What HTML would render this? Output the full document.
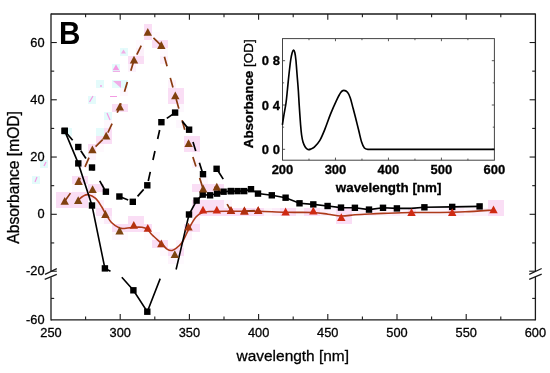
<!DOCTYPE html>
<html><head><meta charset="utf-8"><style>
html,body{margin:0;padding:0;background:#fff;}
svg{display:block;}
text{font-family:"Liberation Sans",sans-serif;fill:#000;stroke:#000;stroke-width:0.3px;}
text.b{stroke-width:0.15px;}
.g{filter:grayscale(1);}
</style></head><body>
<svg width="550" height="373" viewBox="0 0 550 373">
<rect width="550" height="373" fill="#fff"/>
<g shape-rendering="crispEdges"><rect x="152" y="32" width="8" height="8" fill="#fefafe"/><rect x="136" y="40" width="8" height="8" fill="#fefafe"/><rect x="136" y="48" width="8" height="8" fill="#fcf0fa"/><rect x="160" y="48" width="8" height="8" fill="#fef9fd"/><rect x="160" y="56" width="8" height="8" fill="#fcf1fb"/><rect x="128" y="64" width="8" height="8" fill="#fcf1fb"/><rect x="120" y="80" width="8" height="8" fill="#fdf4fc"/><rect x="168" y="80" width="8" height="8" fill="#fdf2fb"/><rect x="120" y="88" width="8" height="8" fill="#fef8fd"/><rect x="176" y="104" width="8" height="8" fill="#fdf7fd"/><rect x="104" y="120" width="8" height="8" fill="#fdf7fd"/><rect x="176" y="120" width="8" height="8" fill="#fdf7fd"/><rect x="96" y="144" width="8" height="8" fill="#fef9fd"/><rect x="88" y="152" width="8" height="8" fill="#fdf3fc"/><rect x="192" y="152" width="8" height="8" fill="#fef9fd"/><rect x="80" y="160" width="8" height="8" fill="#fdf3fc"/><rect x="192" y="160" width="8" height="8" fill="#fdf3fc"/><rect x="200" y="176" width="8" height="8" fill="#fdf6fc"/><rect x="72" y="184" width="8" height="8" fill="#fef9fd"/><rect x="88" y="192" width="8" height="8" fill="#fbe9f8"/><rect x="96" y="200" width="8" height="8" fill="#fceefa"/><rect x="224" y="200" width="8" height="8" fill="#fdf6fc"/><rect x="264" y="208" width="8" height="8" fill="#fdf6fc"/><rect x="272" y="208" width="8" height="8" fill="#fcedfa"/><rect x="296" y="208" width="8" height="8" fill="#fdf6fc"/><rect x="320" y="208" width="8" height="8" fill="#fcf0fa"/><rect x="328" y="208" width="8" height="8" fill="#fdf3fc"/><rect x="352" y="208" width="8" height="8" fill="#fdf2fb"/><rect x="360" y="208" width="8" height="8" fill="#fdf2fb"/><rect x="368" y="208" width="8" height="8" fill="#fcedfa"/><rect x="376" y="208" width="8" height="8" fill="#fdf6fc"/><rect x="384" y="208" width="8" height="8" fill="#fdf2fb"/><rect x="392" y="208" width="8" height="8" fill="#fcecf9"/><rect x="400" y="208" width="8" height="8" fill="#fdf4fc"/><rect x="416" y="208" width="8" height="8" fill="#fdf6fc"/><rect x="424" y="208" width="8" height="8" fill="#fdf6fc"/><rect x="432" y="208" width="8" height="8" fill="#fdf6fc"/><rect x="440" y="208" width="8" height="8" fill="#fdf6fc"/><rect x="456" y="208" width="8" height="8" fill="#fcecf9"/><rect x="464" y="208" width="8" height="8" fill="#fdf6fc"/><rect x="472" y="208" width="8" height="8" fill="#fcf0fa"/><rect x="480" y="208" width="8" height="8" fill="#fcf1fb"/><rect x="96" y="216" width="8" height="8" fill="#fefafe"/><rect x="104" y="216" width="8" height="8" fill="#fbeaf9"/><rect x="192" y="216" width="8" height="8" fill="#fceefa"/><rect x="112" y="232" width="8" height="8" fill="#fdf7fd"/><rect x="120" y="232" width="8" height="8" fill="#fef9fd"/><rect x="144" y="232" width="8" height="8" fill="#fef9fd"/><rect x="152" y="232" width="8" height="8" fill="#fdf2fb"/><rect x="184" y="232" width="8" height="8" fill="#fdf2fb"/><rect x="176" y="240" width="8" height="8" fill="#fdf2fb"/><rect x="160" y="248" width="8" height="8" fill="#fef9fd"/><rect x="168" y="256" width="8" height="8" fill="#fdf4fc"/><rect x="176" y="256" width="8" height="8" fill="#fefafe"/><rect x="56" y="192" width="8" height="8" fill="#fadef5"/><rect x="56" y="200" width="8" height="8" fill="#fadef5"/><rect x="64" y="192" width="8" height="8" fill="#fadef5"/><rect x="64" y="200" width="8" height="8" fill="#fadef5"/><rect x="72" y="176" width="8" height="8" fill="#fadef5"/><rect x="80" y="176" width="8" height="8" fill="#fadef5"/><rect x="88" y="144" width="8" height="8" fill="#fadef5"/><rect x="96" y="128" width="8" height="8" fill="#fadef5"/><rect x="96" y="136" width="8" height="8" fill="#fadef5"/><rect x="104" y="128" width="8" height="8" fill="#fadef5"/><rect x="104" y="136" width="8" height="8" fill="#fadef5"/><rect x="112" y="104" width="8" height="8" fill="#fadef5"/><rect x="120" y="104" width="8" height="8" fill="#fadef5"/><rect x="128" y="56" width="8" height="8" fill="#fadef5"/><rect x="136" y="56" width="8" height="8" fill="#fadef5"/><rect x="144" y="24" width="8" height="8" fill="#fadef5"/><rect x="144" y="32" width="8" height="8" fill="#fadef5"/><rect x="152" y="40" width="8" height="8" fill="#fadef5"/><rect x="160" y="40" width="8" height="8" fill="#fadef5"/><rect x="168" y="88" width="8" height="8" fill="#fadef5"/><rect x="168" y="96" width="8" height="8" fill="#fadef5"/><rect x="176" y="88" width="8" height="8" fill="#fadef5"/><rect x="176" y="96" width="8" height="8" fill="#fadef5"/><rect x="184" y="136" width="8" height="8" fill="#fadef5"/><rect x="184" y="144" width="8" height="8" fill="#fadef5"/><rect x="192" y="136" width="8" height="8" fill="#fadef5"/><rect x="192" y="144" width="8" height="8" fill="#fadef5"/><rect x="192" y="184" width="8" height="8" fill="#fadef5"/><rect x="200" y="184" width="8" height="8" fill="#fadef5"/><rect x="208" y="184" width="8" height="8" fill="#fadef5"/><rect x="216" y="184" width="8" height="8" fill="#fadef5"/><rect x="224" y="208" width="8" height="8" fill="#fadef5"/><rect x="232" y="208" width="8" height="8" fill="#fadef5"/><rect x="240" y="208" width="8" height="8" fill="#fadef5"/><rect x="248" y="208" width="8" height="8" fill="#fadef5"/><rect x="256" y="208" width="8" height="8" fill="#fadef5"/><rect x="72" y="192" width="8" height="8" fill="#fadef5"/><rect x="72" y="200" width="8" height="8" fill="#fadef5"/><rect x="80" y="192" width="8" height="8" fill="#fadef5"/><rect x="80" y="200" width="8" height="8" fill="#fadef5"/><rect x="88" y="184" width="8" height="8" fill="#fadef5"/><rect x="96" y="184" width="8" height="8" fill="#fadef5"/><rect x="96" y="208" width="8" height="8" fill="#fadef5"/><rect x="104" y="208" width="8" height="8" fill="#fadef5"/><rect x="112" y="224" width="8" height="8" fill="#fadef5"/><rect x="120" y="224" width="8" height="8" fill="#fadef5"/><rect x="128" y="216" width="8" height="8" fill="#fadef5"/><rect x="128" y="224" width="8" height="8" fill="#fadef5"/><rect x="136" y="216" width="8" height="8" fill="#fadef5"/><rect x="136" y="224" width="8" height="8" fill="#fadef5"/><rect x="144" y="224" width="8" height="8" fill="#fadef5"/><rect x="152" y="240" width="8" height="8" fill="#fadef5"/><rect x="160" y="240" width="8" height="8" fill="#fadef5"/><rect x="168" y="248" width="8" height="8" fill="#fadef5"/><rect x="176" y="248" width="8" height="8" fill="#fadef5"/><rect x="184" y="224" width="8" height="8" fill="#fadef5"/><rect x="192" y="224" width="8" height="8" fill="#fadef5"/><rect x="192" y="200" width="8" height="8" fill="#fadef5"/><rect x="192" y="208" width="8" height="8" fill="#fadef5"/><rect x="200" y="200" width="8" height="8" fill="#fadef5"/><rect x="200" y="208" width="8" height="8" fill="#fadef5"/><rect x="208" y="200" width="8" height="8" fill="#fadef5"/><rect x="208" y="208" width="8" height="8" fill="#fadef5"/><rect x="216" y="200" width="8" height="8" fill="#fadef5"/><rect x="216" y="208" width="8" height="8" fill="#fadef5"/><rect x="280" y="208" width="8" height="8" fill="#fadef5"/><rect x="288" y="208" width="8" height="8" fill="#fadef5"/><rect x="304" y="208" width="8" height="8" fill="#fadef5"/><rect x="312" y="208" width="8" height="8" fill="#fadef5"/><rect x="336" y="208" width="8" height="8" fill="#fadef5"/><rect x="336" y="216" width="8" height="8" fill="#fadef5"/><rect x="344" y="208" width="8" height="8" fill="#fadef5"/><rect x="344" y="216" width="8" height="8" fill="#fadef5"/><rect x="408" y="208" width="8" height="8" fill="#fadef5"/><rect x="448" y="208" width="8" height="8" fill="#fadef5"/><rect x="488" y="200" width="8" height="8" fill="#fadef5"/><rect x="488" y="208" width="8" height="8" fill="#fadef5"/><rect x="496" y="200" width="8" height="8" fill="#fadef5"/><rect x="496" y="208" width="8" height="8" fill="#fadef5"/></g>
<rect x="112" y="64" width="8" height="8" fill="#e4fbfb" shape-rendering="crispEdges"/>
<rect x="96" y="80" width="8" height="8" fill="#e4fbfb" shape-rendering="crispEdges"/>
<rect x="112" y="80" width="8" height="8" fill="#e4fbfb" shape-rendering="crispEdges"/>
<rect x="120" y="80" width="8" height="8" fill="#e4fbfb" shape-rendering="crispEdges"/>
<rect x="88" y="96" width="8" height="8" fill="#e4fbfb" shape-rendering="crispEdges"/>
<rect x="104" y="112" width="8" height="8" fill="#e4fbfb" shape-rendering="crispEdges"/>
<rect x="32" y="176" width="8" height="8" fill="#e4fbfb" shape-rendering="crispEdges"/>
<rect x="40" y="160" width="8" height="8" fill="#e4fbfb" shape-rendering="crispEdges"/>
<rect x="120" y="48" width="8" height="8" fill="#e4fbfb" shape-rendering="crispEdges"/>
<rect x="64" y="128" width="8" height="8" fill="#e4fbfb" shape-rendering="crispEdges"/>
<rect x="96" y="128" width="8" height="8" fill="#e4fbfb" shape-rendering="crispEdges"/>
<path d="M116,64.5 L119.2,70 L112.8,70Z" fill="#f39be3"/>
<line x1="113" y1="71.3" x2="120" y2="71.3" stroke="#f39be3" stroke-width="1"/>
<circle cx="101" cy="86" r="0.9" fill="#f39be3"/>
<path d="M113,81 L121,81 L121,88Z" fill="#f39be3" opacity="0.8"/>
<line x1="89.5" y1="102" x2="93" y2="96" stroke="#f39be3" stroke-width="1.2"/>
<line x1="110" y1="96.5" x2="117" y2="96.5" stroke="#f39be3" stroke-width="1"/>
<line x1="107" y1="113" x2="110" y2="120" stroke="#f39be3" stroke-width="1.2"/>
<line x1="35" y1="182" x2="37" y2="177" stroke="#f39be3" stroke-width="1.2"/>
<line x1="44" y1="166" x2="46" y2="162" stroke="#f39be3" stroke-width="1.2"/>
<path d="M123.5,49.5 L126,53.5 L121,53.5Z" fill="#f39be3" opacity="0.8"/>
<path d="M78.50,199.80 C79.25,199.20 81.38,197.05 83.00,196.20 C84.62,195.35 86.10,194.33 88.20,194.70 C90.30,195.07 93.38,196.43 95.60,198.40 C97.82,200.37 99.85,203.98 101.50,206.50 C103.15,209.02 103.78,210.78 105.50,213.50 C107.22,216.22 109.47,220.38 111.80,222.80 C114.13,225.22 117.13,227.08 119.50,228.00 C121.87,228.92 123.58,228.42 126.00,228.30 C128.42,228.18 131.33,227.47 134.00,227.30 C136.67,227.13 139.75,226.93 142.00,227.30 C144.25,227.67 145.83,228.25 147.50,229.50 C149.17,230.75 149.67,232.45 152.00,234.80 C154.33,237.15 158.93,241.17 161.50,243.60 C164.07,246.03 165.52,248.30 167.40,249.40 C169.28,250.50 170.90,250.77 172.80,250.20 C174.70,249.63 177.10,247.53 178.80,246.00 C180.50,244.47 181.13,244.25 183.00,241.00 C184.87,237.75 187.83,230.50 190.00,226.50 C192.17,222.50 193.92,219.32 196.00,217.00 C198.08,214.68 200.17,213.52 202.50,212.60 C204.83,211.68 205.25,211.72 210.00,211.50 C214.75,211.28 223.00,211.33 231.00,211.30 C239.00,211.27 248.90,211.13 258.00,211.30 C267.10,211.47 276.38,212.10 285.60,212.30 C294.82,212.50 306.23,212.18 313.30,212.50 C320.37,212.82 323.35,213.62 328.00,214.20 C332.65,214.78 336.70,215.90 341.20,216.00 C345.70,216.10 350.37,215.13 355.00,214.80 C359.63,214.47 364.33,214.23 369.00,214.00 C373.67,213.77 375.92,213.65 383.00,213.40 C390.08,213.15 402.00,212.65 411.50,212.50 C421.00,212.35 431.08,212.62 440.00,212.50 C448.92,212.38 456.08,212.22 465.00,211.80 C473.92,211.38 488.75,210.30 493.50,210.00" fill="none" stroke="#ad3a1a" stroke-width="1.6"/>
<line x1="64.7" y1="201.3" x2="78.6" y2="181.5" stroke="#8a3a10" stroke-width="1.7" stroke-dasharray="10,12" stroke-dashoffset="0.00"/>
<line x1="78.6" y1="181.5" x2="92.4" y2="149.9" stroke="#8a3a10" stroke-width="1.7" stroke-dasharray="10,12" stroke-dashoffset="6.00"/>
<line x1="92.4" y1="149.9" x2="106.2" y2="136.1" stroke="#8a3a10" stroke-width="1.7" stroke-dasharray="10,12" stroke-dashoffset="17.50"/>
<line x1="106.2" y1="136.1" x2="119.8" y2="107.1" stroke="#8a3a10" stroke-width="1.7" stroke-dasharray="10,12" stroke-dashoffset="18.10"/>
<line x1="119.8" y1="107.1" x2="134.0" y2="60.2" stroke="#8a3a10" stroke-width="1.7" stroke-dasharray="10,12" stroke-dashoffset="5.90"/>
<line x1="134.0" y1="60.2" x2="147.8" y2="32.3" stroke="#8a3a10" stroke-width="1.7" stroke-dasharray="10,12" stroke-dashoffset="15.70"/>
<line x1="147.8" y1="32.3" x2="161.3" y2="45.5" stroke="#8a3a10" stroke-width="1.7" stroke-dasharray="10,12" stroke-dashoffset="14.10"/>
<line x1="161.3" y1="45.5" x2="175.3" y2="95.9" stroke="#8a3a10" stroke-width="1.7" stroke-dasharray="10,12" stroke-dashoffset="10.40"/>
<line x1="175.3" y1="95.9" x2="188.6" y2="143.6" stroke="#8a3a10" stroke-width="1.7" stroke-dasharray="10,12" stroke-dashoffset="18.80"/>
<line x1="188.6" y1="143.6" x2="203.2" y2="189.0" stroke="#8a3a10" stroke-width="1.7" stroke-dasharray="10,12" stroke-dashoffset="8.00"/>
<line x1="203.2" y1="189.0" x2="216.8" y2="187.1" stroke="#8a3a10" stroke-width="1.7" stroke-dasharray="10,12" stroke-dashoffset="10.95"/>
<line x1="216.8" y1="187.1" x2="231.0" y2="210.6" stroke="#8a3a10" stroke-width="1.7" stroke-dasharray="10,12" stroke-dashoffset="2.10"/>
<line x1="231.0" y1="210.6" x2="244.4" y2="211.0" stroke="#8a3a10" stroke-width="1.7" stroke-dasharray="10,12" stroke-dashoffset="8.14"/>
<line x1="244.4" y1="211.0" x2="258.2" y2="210.6" stroke="#8a3a10" stroke-width="1.7" stroke-dasharray="10,12" stroke-dashoffset="21.54"/>
<line x1="64.7" y1="130.9" x2="78.3" y2="147.0" stroke="#000" stroke-width="1.7" stroke-dasharray="9.3,12.2" stroke-dashoffset="18.50"/>
<line x1="78.3" y1="147.0" x2="92.0" y2="167.5" stroke="#000" stroke-width="1.7" stroke-dasharray="9.3,12.2" stroke-dashoffset="17.00"/>
<line x1="92.0" y1="167.5" x2="105.9" y2="191.7" stroke="#000" stroke-width="1.7" stroke-dasharray="9.3,12.2" stroke-dashoffset="6.00"/>
<line x1="105.9" y1="191.7" x2="119.4" y2="196.5" stroke="#000" stroke-width="1.7" stroke-dasharray="9.3,12.2" stroke-dashoffset="7.04"/>
<line x1="119.4" y1="196.5" x2="132.8" y2="201.8" stroke="#000" stroke-width="1.7" stroke-dasharray="9.3,12.2" stroke-dashoffset="21.37"/>
<line x1="132.8" y1="201.8" x2="147.3" y2="185.3" stroke="#000" stroke-width="1.7" stroke-dasharray="9.3,12.2" stroke-dashoffset="14.28"/>
<line x1="147.3" y1="185.3" x2="161.4" y2="122.2" stroke="#000" stroke-width="1.7" stroke-dasharray="9.3,12.2" stroke-dashoffset="17.10"/>
<line x1="161.4" y1="122.2" x2="175.1" y2="112.6" stroke="#000" stroke-width="1.7" stroke-dasharray="9.3,12.2" stroke-dashoffset="14.90"/>
<line x1="175.1" y1="112.6" x2="189.1" y2="129.7" stroke="#000" stroke-width="1.7" stroke-dasharray="9.3,12.2" stroke-dashoffset="10.13"/>
<line x1="189.1" y1="129.7" x2="203.0" y2="174.2" stroke="#000" stroke-width="1.7" stroke-dasharray="9.3,12.2" stroke-dashoffset="8.50"/>
<line x1="203.0" y1="174.2" x2="216.6" y2="168.8" stroke="#000" stroke-width="1.7" stroke-dasharray="9.3,12.2" stroke-dashoffset="7.00"/>
<line x1="216.6" y1="168.8" x2="230.9" y2="191.1" stroke="#000" stroke-width="1.7" stroke-dasharray="9.3,12.2" stroke-dashoffset="18.50"/>
<polyline points="64.7,130.9 78.3,163.4 92.0,205.5 104.9,268.4 110.5,271.3" fill="none" stroke="#000" stroke-width="1.6"/>
<polyline points="121.8,277.2 133.4,290.3 147.3,311.7 160.2,278.6" fill="none" stroke="#000" stroke-width="1.6"/>
<polyline points="176.1,269.5 189.0,214.5 196.6,200.6 202.7,194.6 210.1,195.3 217.1,193.6 223.6,191.7 230.9,191.1 237.6,191.1 244.2,191.1 251.0,189.2 258.0,193.6 271.8,195.3 285.6,197.7 299.5,203.3 313.3,204.4 327.6,206.0 341.0,207.6 354.9,207.8 369.0,209.6 383.0,207.8 396.9,208.4 411.3,208.4 424.4,207.3 452.2,206.9 479.6,206.4" fill="none" stroke="#000" stroke-width="1.6"/>
<rect x="61.5" y="127.7" width="6.4" height="6.4" fill="#000"/>
<rect x="75.1" y="143.8" width="6.4" height="6.4" fill="#000"/>
<rect x="88.8" y="164.3" width="6.4" height="6.4" fill="#000"/>
<rect x="102.7" y="188.5" width="6.4" height="6.4" fill="#000"/>
<rect x="116.2" y="193.3" width="6.4" height="6.4" fill="#000"/>
<rect x="129.6" y="198.6" width="6.4" height="6.4" fill="#000"/>
<rect x="144.1" y="182.1" width="6.4" height="6.4" fill="#000"/>
<rect x="158.2" y="119.0" width="6.4" height="6.4" fill="#000"/>
<rect x="171.9" y="109.4" width="6.4" height="6.4" fill="#000"/>
<rect x="185.9" y="126.5" width="6.4" height="6.4" fill="#000"/>
<rect x="199.8" y="171.0" width="6.4" height="6.4" fill="#000"/>
<rect x="213.4" y="165.6" width="6.4" height="6.4" fill="#000"/>
<rect x="227.7" y="187.9" width="6.4" height="6.4" fill="#000"/>
<rect x="61.5" y="127.7" width="6.4" height="6.4" fill="#000"/>
<rect x="75.1" y="160.2" width="6.4" height="6.4" fill="#000"/>
<rect x="88.8" y="202.3" width="6.4" height="6.4" fill="#000"/>
<rect x="101.7" y="265.2" width="6.4" height="6.4" fill="#000"/>
<rect x="130.2" y="287.1" width="6.4" height="6.4" fill="#000"/>
<rect x="144.1" y="308.5" width="6.4" height="6.4" fill="#000"/>
<rect x="185.8" y="211.3" width="6.4" height="6.4" fill="#000"/>
<rect x="193.4" y="197.4" width="6.4" height="6.4" fill="#000"/>
<rect x="199.5" y="191.4" width="6.4" height="6.4" fill="#000"/>
<rect x="206.9" y="192.1" width="6.4" height="6.4" fill="#000"/>
<rect x="213.9" y="190.4" width="6.4" height="6.4" fill="#000"/>
<rect x="220.4" y="188.5" width="6.4" height="6.4" fill="#000"/>
<rect x="227.7" y="187.9" width="6.4" height="6.4" fill="#000"/>
<rect x="234.4" y="187.9" width="6.4" height="6.4" fill="#000"/>
<rect x="241.0" y="187.9" width="6.4" height="6.4" fill="#000"/>
<rect x="247.8" y="186.0" width="6.4" height="6.4" fill="#000"/>
<rect x="254.8" y="190.4" width="6.4" height="6.4" fill="#000"/>
<rect x="268.6" y="192.1" width="6.4" height="6.4" fill="#000"/>
<rect x="282.4" y="194.5" width="6.4" height="6.4" fill="#000"/>
<rect x="296.3" y="200.1" width="6.4" height="6.4" fill="#000"/>
<rect x="310.1" y="201.2" width="6.4" height="6.4" fill="#000"/>
<rect x="324.4" y="202.8" width="6.4" height="6.4" fill="#000"/>
<rect x="337.8" y="204.4" width="6.4" height="6.4" fill="#000"/>
<rect x="351.7" y="204.6" width="6.4" height="6.4" fill="#000"/>
<rect x="365.8" y="206.4" width="6.4" height="6.4" fill="#000"/>
<rect x="379.8" y="204.6" width="6.4" height="6.4" fill="#000"/>
<rect x="393.7" y="205.2" width="6.4" height="6.4" fill="#000"/>
<rect x="421.2" y="204.1" width="6.4" height="6.4" fill="#000"/>
<rect x="449.0" y="203.7" width="6.4" height="6.4" fill="#000"/>
<rect x="476.4" y="203.2" width="6.4" height="6.4" fill="#000"/>
<path d="M64.7,196.9 L68.9,204.7 L60.5,204.7Z" fill="#80400e"/>
<path d="M78.6,177.1 L82.8,184.9 L74.4,184.9Z" fill="#80400e"/>
<path d="M92.4,145.5 L96.6,153.3 L88.2,153.3Z" fill="#80400e"/>
<path d="M106.2,131.7 L110.4,139.5 L102.0,139.5Z" fill="#80400e"/>
<path d="M119.8,102.7 L124.0,110.5 L115.6,110.5Z" fill="#80400e"/>
<path d="M134.0,55.8 L138.2,63.6 L129.8,63.6Z" fill="#80400e"/>
<path d="M147.8,27.9 L152.0,35.7 L143.6,35.7Z" fill="#80400e"/>
<path d="M161.3,41.1 L165.5,48.9 L157.1,48.9Z" fill="#80400e"/>
<path d="M175.3,91.5 L179.5,99.3 L171.1,99.3Z" fill="#80400e"/>
<path d="M188.6,139.2 L192.8,147.0 L184.4,147.0Z" fill="#80400e"/>
<path d="M203.2,184.6 L207.4,192.4 L199.0,192.4Z" fill="#80400e"/>
<path d="M216.8,182.7 L221.0,190.5 L212.6,190.5Z" fill="#80400e"/>
<path d="M78.2,196.2 L82.4,204.0 L74.0,204.0Z" fill="#7c4410"/>
<path d="M92.6,185.2 L96.8,193.0 L88.4,193.0Z" fill="#7c4410"/>
<path d="M105.4,210.1 L109.6,217.9 L101.2,217.9Z" fill="#86400e"/>
<path d="M119.6,226.6 L123.8,234.4 L115.4,234.4Z" fill="#7c4410"/>
<path d="M133.8,220.9 L138.0,228.7 L129.6,228.7Z" fill="#b4320f"/>
<path d="M147.8,223.9 L152.0,231.7 L143.6,231.7Z" fill="#c02c10"/>
<path d="M161.3,239.5 L165.5,247.3 L157.1,247.3Z" fill="#a4360f"/>
<path d="M174.8,250.3 L179.0,258.1 L170.6,258.1Z" fill="#7c4410"/>
<path d="M188.5,222.7 L192.7,230.5 L184.3,230.5Z" fill="#a4360f"/>
<path d="M203.0,205.8 L207.2,213.6 L198.8,213.6Z" fill="#cf2a12"/>
<path d="M216.8,205.8 L221.0,213.6 L212.6,213.6Z" fill="#cf2a12"/>
<path d="M231.0,206.2 L235.2,214.0 L226.8,214.0Z" fill="#cf2a12"/>
<path d="M244.4,206.6 L248.6,214.4 L240.2,214.4Z" fill="#cf2a12"/>
<path d="M258.2,206.2 L262.4,214.0 L254.0,214.0Z" fill="#cf2a12"/>
<path d="M285.6,207.6 L289.8,215.4 L281.4,215.4Z" fill="#cf2a12"/>
<path d="M313.3,206.8 L317.5,214.6 L309.1,214.6Z" fill="#cf2a12"/>
<path d="M341.3,213.2 L345.5,221.0 L337.1,221.0Z" fill="#cf2a12"/>
<path d="M411.5,208.2 L415.7,216.0 L407.3,216.0Z" fill="#cf2a12"/>
<path d="M452.2,208.3 L456.4,216.1 L448.0,216.1Z" fill="#cf2a12"/>
<path d="M493.5,205.4 L497.7,213.2 L489.3,213.2Z" fill="#cf2a12"/>
<path d="M231.0,206.2 L235.2,214.0 L226.8,214.0Z" fill="#b0300f"/>
<path d="M244.4,206.6 L248.6,214.4 L240.2,214.4Z" fill="#b0300f"/>
<path d="M258.2,206.2 L262.4,214.0 L254.0,214.0Z" fill="#b0300f"/>
<line x1="51.0" y1="14.0" x2="535.4" y2="14.0" stroke="#1a1a1a" stroke-width="1.3"/>
<line x1="51.0" y1="319.8" x2="535.4" y2="319.8" stroke="#1a1a1a" stroke-width="1.3"/>
<line x1="51.0" y1="13.4" x2="51.0" y2="271.2" stroke="#1a1a1a" stroke-width="1.3"/>
<line x1="51.0" y1="277.2" x2="51.0" y2="320.40000000000003" stroke="#1a1a1a" stroke-width="1.3"/>
<line x1="535.4" y1="13.4" x2="535.4" y2="271.2" stroke="#1a1a1a" stroke-width="1.3"/>
<line x1="535.4" y1="276.8" x2="535.4" y2="320.40000000000003" stroke="#1a1a1a" stroke-width="1.3"/>
<line x1="45" y1="274.4" x2="56.8" y2="268.6" stroke="#1a1a1a" stroke-width="1.2"/>
<line x1="44.7" y1="279.4" x2="56.8" y2="274.4" stroke="#1a1a1a" stroke-width="1.2"/>
<line x1="51.0" y1="271.2" x2="56.8" y2="271.2" stroke="#1a1a1a" stroke-width="1.1"/>
<line x1="529.2" y1="274.4" x2="541.7" y2="268.5" stroke="#1a1a1a" stroke-width="1.2"/>
<line x1="529.2" y1="279.4" x2="541.7" y2="274.1" stroke="#1a1a1a" stroke-width="1.2"/>
<line x1="529.2" y1="271.2" x2="535.4" y2="271.2" stroke="#1a1a1a" stroke-width="1.1"/>
<line x1="85.60" y1="319.8" x2="85.60" y2="316.6" stroke="#1a1a1a" stroke-width="1.1"/>
<line x1="85.60" y1="14.0" x2="85.60" y2="17.2" stroke="#1a1a1a" stroke-width="1.1"/>
<line x1="120.20" y1="319.8" x2="120.20" y2="314.0" stroke="#1a1a1a" stroke-width="1.1"/>
<line x1="120.20" y1="14.0" x2="120.20" y2="19.8" stroke="#1a1a1a" stroke-width="1.1"/>
<line x1="154.80" y1="319.8" x2="154.80" y2="316.6" stroke="#1a1a1a" stroke-width="1.1"/>
<line x1="154.80" y1="14.0" x2="154.80" y2="17.2" stroke="#1a1a1a" stroke-width="1.1"/>
<line x1="189.40" y1="319.8" x2="189.40" y2="314.0" stroke="#1a1a1a" stroke-width="1.1"/>
<line x1="189.40" y1="14.0" x2="189.40" y2="19.8" stroke="#1a1a1a" stroke-width="1.1"/>
<line x1="224.00" y1="319.8" x2="224.00" y2="316.6" stroke="#1a1a1a" stroke-width="1.1"/>
<line x1="224.00" y1="14.0" x2="224.00" y2="17.2" stroke="#1a1a1a" stroke-width="1.1"/>
<line x1="258.60" y1="319.8" x2="258.60" y2="314.0" stroke="#1a1a1a" stroke-width="1.1"/>
<line x1="258.60" y1="14.0" x2="258.60" y2="19.8" stroke="#1a1a1a" stroke-width="1.1"/>
<line x1="293.20" y1="319.8" x2="293.20" y2="316.6" stroke="#1a1a1a" stroke-width="1.1"/>
<line x1="293.20" y1="14.0" x2="293.20" y2="17.2" stroke="#1a1a1a" stroke-width="1.1"/>
<line x1="327.80" y1="319.8" x2="327.80" y2="314.0" stroke="#1a1a1a" stroke-width="1.1"/>
<line x1="327.80" y1="14.0" x2="327.80" y2="19.8" stroke="#1a1a1a" stroke-width="1.1"/>
<line x1="362.40" y1="319.8" x2="362.40" y2="316.6" stroke="#1a1a1a" stroke-width="1.1"/>
<line x1="362.40" y1="14.0" x2="362.40" y2="17.2" stroke="#1a1a1a" stroke-width="1.1"/>
<line x1="397.00" y1="319.8" x2="397.00" y2="314.0" stroke="#1a1a1a" stroke-width="1.1"/>
<line x1="397.00" y1="14.0" x2="397.00" y2="19.8" stroke="#1a1a1a" stroke-width="1.1"/>
<line x1="431.60" y1="319.8" x2="431.60" y2="316.6" stroke="#1a1a1a" stroke-width="1.1"/>
<line x1="431.60" y1="14.0" x2="431.60" y2="17.2" stroke="#1a1a1a" stroke-width="1.1"/>
<line x1="466.20" y1="319.8" x2="466.20" y2="314.0" stroke="#1a1a1a" stroke-width="1.1"/>
<line x1="466.20" y1="14.0" x2="466.20" y2="19.8" stroke="#1a1a1a" stroke-width="1.1"/>
<line x1="500.80" y1="319.8" x2="500.80" y2="316.6" stroke="#1a1a1a" stroke-width="1.1"/>
<line x1="500.80" y1="14.0" x2="500.80" y2="17.2" stroke="#1a1a1a" stroke-width="1.1"/>
<line x1="51.0" y1="242.93" x2="54.2" y2="242.93" stroke="#1a1a1a" stroke-width="1.1"/>
<line x1="535.4" y1="242.93" x2="532.1999999999999" y2="242.93" stroke="#1a1a1a" stroke-width="1.1"/>
<line x1="51.0" y1="214.30" x2="56.8" y2="214.30" stroke="#1a1a1a" stroke-width="1.1"/>
<line x1="535.4" y1="214.30" x2="529.6" y2="214.30" stroke="#1a1a1a" stroke-width="1.1"/>
<line x1="51.0" y1="185.67" x2="54.2" y2="185.67" stroke="#1a1a1a" stroke-width="1.1"/>
<line x1="535.4" y1="185.67" x2="532.1999999999999" y2="185.67" stroke="#1a1a1a" stroke-width="1.1"/>
<line x1="51.0" y1="157.04" x2="56.8" y2="157.04" stroke="#1a1a1a" stroke-width="1.1"/>
<line x1="535.4" y1="157.04" x2="529.6" y2="157.04" stroke="#1a1a1a" stroke-width="1.1"/>
<line x1="51.0" y1="128.41" x2="54.2" y2="128.41" stroke="#1a1a1a" stroke-width="1.1"/>
<line x1="535.4" y1="128.41" x2="532.1999999999999" y2="128.41" stroke="#1a1a1a" stroke-width="1.1"/>
<line x1="51.0" y1="99.78" x2="56.8" y2="99.78" stroke="#1a1a1a" stroke-width="1.1"/>
<line x1="535.4" y1="99.78" x2="529.6" y2="99.78" stroke="#1a1a1a" stroke-width="1.1"/>
<line x1="51.0" y1="71.15" x2="54.2" y2="71.15" stroke="#1a1a1a" stroke-width="1.1"/>
<line x1="535.4" y1="71.15" x2="532.1999999999999" y2="71.15" stroke="#1a1a1a" stroke-width="1.1"/>
<line x1="51.0" y1="42.52" x2="56.8" y2="42.52" stroke="#1a1a1a" stroke-width="1.1"/>
<line x1="535.4" y1="42.52" x2="529.6" y2="42.52" stroke="#1a1a1a" stroke-width="1.1"/>
<line x1="51.0" y1="298.40" x2="54.2" y2="298.40" stroke="#1a1a1a" stroke-width="1.1"/>
<line x1="535.4" y1="298.40" x2="532.1999999999999" y2="298.40" stroke="#1a1a1a" stroke-width="1.1"/>
<g class="g"><text x="51.00" y="336.8" font-size="12.8" text-anchor="middle">250</text></g>
<g class="g"><text x="120.20" y="336.8" font-size="12.8" text-anchor="middle">300</text></g>
<g class="g"><text x="189.40" y="336.8" font-size="12.8" text-anchor="middle">350</text></g>
<g class="g"><text x="258.60" y="336.8" font-size="12.8" text-anchor="middle">400</text></g>
<g class="g"><text x="327.80" y="336.8" font-size="12.8" text-anchor="middle">450</text></g>
<g class="g"><text x="397.00" y="336.8" font-size="12.8" text-anchor="middle">500</text></g>
<g class="g"><text x="466.20" y="336.8" font-size="12.8" text-anchor="middle">550</text></g>
<g class="g"><text x="535.40" y="336.8" font-size="12.8" text-anchor="middle">600</text></g>
<g class="g"><text x="44.5" y="46.52" font-size="12.8" text-anchor="end">60</text></g>
<g class="g"><text x="44.5" y="103.78" font-size="12.8" text-anchor="end">40</text></g>
<g class="g"><text x="44.5" y="161.04" font-size="12.8" text-anchor="end">20</text></g>
<g class="g"><text x="44.5" y="218.30" font-size="12.8" text-anchor="end">0</text></g>
<g class="g"><text x="44.5" y="275.26" font-size="12.8" text-anchor="end">-20</text></g>
<g class="g"><text x="44.5" y="324.40" font-size="12.8" text-anchor="end">-60</text></g>
<g class="g"><text x="292.8" y="361.3" font-size="15.45" text-anchor="middle">wavelength [nm]</text></g>
<g class="g"><text transform="translate(18.6,177.4) rotate(-90)" font-size="15.6" text-anchor="middle">Absorbance [mOD]</text></g>
<g class="g"><text transform="translate(58.9,44.0) scale(0.975,1.03)" font-size="30.4" font-weight="bold" style="stroke-width:0">B</text></g>
<rect x="282.5" y="38.6" width="211.9" height="121.6" fill="#fff" stroke="#444" stroke-width="1"/>
<line x1="308.99" y1="160.2" x2="308.99" y2="158.6" stroke="#444" stroke-width="0.9"/>
<line x1="308.99" y1="38.6" x2="308.99" y2="40.2" stroke="#444" stroke-width="0.9"/>
<line x1="335.48" y1="160.2" x2="335.48" y2="157.6" stroke="#444" stroke-width="0.9"/>
<line x1="335.48" y1="38.6" x2="335.48" y2="41.2" stroke="#444" stroke-width="0.9"/>
<line x1="361.96" y1="160.2" x2="361.96" y2="158.6" stroke="#444" stroke-width="0.9"/>
<line x1="361.96" y1="38.6" x2="361.96" y2="40.2" stroke="#444" stroke-width="0.9"/>
<line x1="388.45" y1="160.2" x2="388.45" y2="157.6" stroke="#444" stroke-width="0.9"/>
<line x1="388.45" y1="38.6" x2="388.45" y2="41.2" stroke="#444" stroke-width="0.9"/>
<line x1="414.94" y1="160.2" x2="414.94" y2="158.6" stroke="#444" stroke-width="0.9"/>
<line x1="414.94" y1="38.6" x2="414.94" y2="40.2" stroke="#444" stroke-width="0.9"/>
<line x1="441.42" y1="160.2" x2="441.42" y2="157.6" stroke="#444" stroke-width="0.9"/>
<line x1="441.42" y1="38.6" x2="441.42" y2="41.2" stroke="#444" stroke-width="0.9"/>
<line x1="467.91" y1="160.2" x2="467.91" y2="158.6" stroke="#444" stroke-width="0.9"/>
<line x1="467.91" y1="38.6" x2="467.91" y2="40.2" stroke="#444" stroke-width="0.9"/>
<line x1="282.5" y1="149.30" x2="285.1" y2="149.30" stroke="#444" stroke-width="0.9"/>
<line x1="494.4" y1="149.30" x2="491.79999999999995" y2="149.30" stroke="#444" stroke-width="0.9"/>
<line x1="282.5" y1="127.15" x2="284.1" y2="127.15" stroke="#444" stroke-width="0.9"/>
<line x1="494.4" y1="127.15" x2="492.79999999999995" y2="127.15" stroke="#444" stroke-width="0.9"/>
<line x1="282.5" y1="105.00" x2="285.1" y2="105.00" stroke="#444" stroke-width="0.9"/>
<line x1="494.4" y1="105.00" x2="491.79999999999995" y2="105.00" stroke="#444" stroke-width="0.9"/>
<line x1="282.5" y1="82.85" x2="284.1" y2="82.85" stroke="#444" stroke-width="0.9"/>
<line x1="494.4" y1="82.85" x2="492.79999999999995" y2="82.85" stroke="#444" stroke-width="0.9"/>
<line x1="282.5" y1="60.70" x2="285.1" y2="60.70" stroke="#444" stroke-width="0.9"/>
<line x1="494.4" y1="60.70" x2="491.79999999999995" y2="60.70" stroke="#444" stroke-width="0.9"/>
<path d="M282.40,124.80 C282.65,123.18 283.30,118.73 283.90,115.10 C284.50,111.47 285.42,107.18 286.00,103.00 C286.58,98.82 286.92,94.67 287.40,90.00 C287.88,85.33 288.35,80.00 288.90,75.00 C289.45,70.00 290.17,63.67 290.70,60.00 C291.23,56.33 291.63,54.65 292.10,53.00 C292.57,51.35 293.05,50.18 293.50,50.10 C293.95,50.02 294.40,50.85 294.80,52.50 C295.20,54.15 295.52,56.25 295.90,60.00 C296.28,63.75 296.70,70.00 297.10,75.00 C297.50,80.00 297.95,85.00 298.30,90.00 C298.65,95.00 298.82,99.17 299.20,105.00 C299.58,110.83 300.20,120.00 300.60,125.00 C301.00,130.00 301.20,132.17 301.60,135.00 C302.00,137.83 302.40,140.00 303.00,142.00 C303.60,144.00 304.38,145.75 305.20,147.00 C306.02,148.25 306.93,149.17 307.90,149.50 C308.87,149.83 309.93,149.38 311.00,149.00 C312.07,148.62 312.85,148.58 314.30,147.20 C315.75,145.82 317.92,143.75 319.70,140.70 C321.48,137.65 323.18,133.37 325.00,128.90 C326.82,124.43 328.72,118.58 330.60,113.90 C332.48,109.22 334.58,104.40 336.30,100.80 C338.02,97.20 339.65,94.03 340.90,92.30 C342.15,90.57 342.70,90.40 343.80,90.40 C344.90,90.40 346.42,91.03 347.50,92.30 C348.58,93.57 349.37,95.33 350.30,98.00 C351.23,100.67 352.15,104.72 353.10,108.30 C354.05,111.88 355.05,115.75 356.00,119.50 C356.95,123.25 357.87,127.05 358.80,130.80 C359.73,134.55 360.67,139.13 361.60,142.00 C362.53,144.87 363.30,146.77 364.40,148.00 C365.50,149.23 365.60,149.17 368.20,149.40 C370.80,149.63 358.97,149.42 380.00,149.40 C401.03,149.38 475.33,149.32 494.40,149.30" fill="none" stroke="#000" stroke-width="1.65" stroke-linejoin="round"/>
<g class="g"><text x="279.9" y="153.90" font-size="13" font-weight="bold" text-anchor="end">0 0</text></g>
<g class="g"><text x="279.9" y="109.60" font-size="13" font-weight="bold" text-anchor="end">0 4</text></g>
<g class="g"><text x="279.9" y="65.30" font-size="13" font-weight="bold" text-anchor="end">0 8</text></g>
<g class="g"><text x="282.50" y="174.2" font-size="13" font-weight="bold" text-anchor="middle">200</text></g>
<g class="g"><text x="335.48" y="174.2" font-size="13" font-weight="bold" text-anchor="middle">300</text></g>
<g class="g"><text x="388.45" y="174.2" font-size="13" font-weight="bold" text-anchor="middle">400</text></g>
<g class="g"><text x="441.42" y="174.2" font-size="13" font-weight="bold" text-anchor="middle">500</text></g>
<g class="g"><text x="494.40" y="174.2" font-size="13" font-weight="bold" text-anchor="middle">600</text></g>
<g class="g"><text x="388.6" y="192.3" font-size="13.4" font-weight="bold" text-anchor="middle">wavelength [nm]</text></g>
<g class="g"><text transform="translate(252.5,93.8) rotate(-90)" font-size="13.45" font-weight="bold" text-anchor="middle">Absorbance <tspan font-weight="normal">[OD]</tspan></text></g>
</svg>
</body></html>
